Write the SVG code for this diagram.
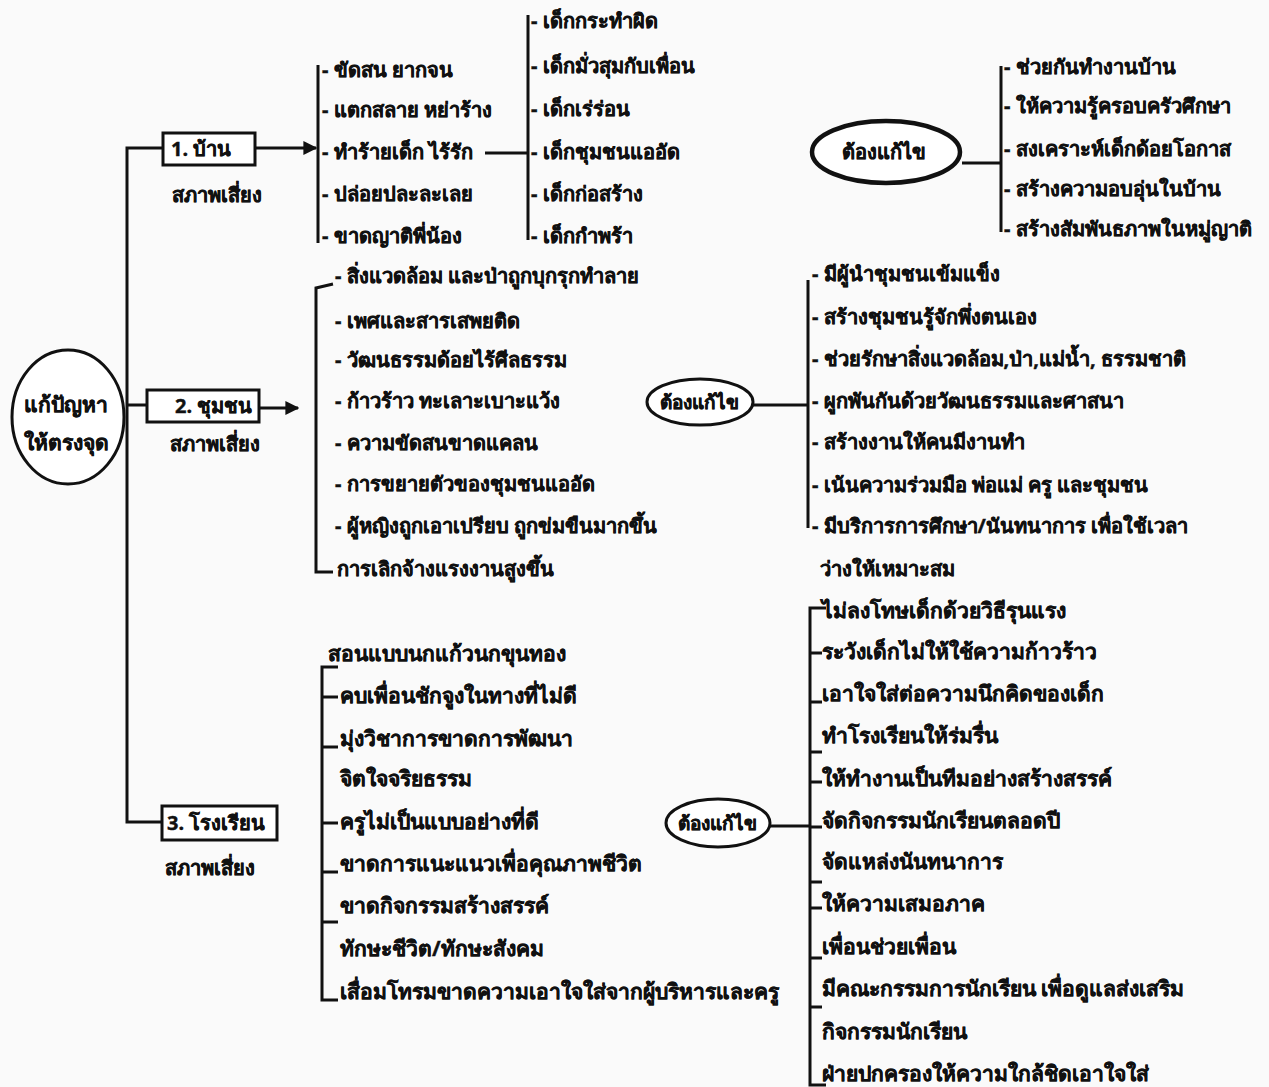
<svg xmlns="http://www.w3.org/2000/svg" width="1269" height="1087" viewBox="0 0 1269 1087">
<defs>
<style>
text{font-family:"Noto Sans","DejaVu Sans","Liberation Sans",sans-serif;font-weight:bold;font-size:20px;fill:#111;stroke:#111;stroke-width:0.4}
.ln{stroke:#111;stroke-width:3;fill:none}
.bx{stroke:#111;stroke-width:3;fill:#fff}
.el{stroke:#111;stroke-width:3;fill:#fff}
.c{text-anchor:middle}
.s{font-size:19px}
.r{font-size:21px}
.b{font-size:21px}
</style>
<marker id="ah" viewBox="0 0 10 10" refX="9" refY="5" markerWidth="14" markerHeight="14" markerUnits="userSpaceOnUse" orient="auto"><path d="M0,0 L10,5 L0,10 z" fill="#111"/></marker>
</defs>
<rect width="1269" height="1087" fill="#fafafa"/>
<g id="connectors">
<path class="ln" d="M163,148 H127 V822 H162 M127,405 H147"/>
<line class="ln" x1="255" y1="148" x2="316" y2="148" marker-end="url(#ah)"/>
<line class="ln" x1="259" y1="408" x2="298" y2="408" marker-end="url(#ah)"/>
<path class="ln" d="M318,65 V243"/>
<path class="ln" d="M485,153 H528 M528,15 V240"/>
<path class="ln" d="M962,163 H1001 M1001,66 V232"/>
<path class="ln" d="M333,284 L316,288 V572 H333"/>
<path class="ln" d="M753,405 H808 M808,280 V528"/>
<path class="ln" d="M338,667 H322 V1000 H338 M322,697 H338 M322,747 H338 M322,823 H338 M322,872 H338 M322,922 H338"/>
<path class="ln" d="M770,826 H810 M826,608 H810 V1085 H826 M810,653 H822 M810,702 H822 M810,752 H822 M810,782 H822 M810,827 H822 M810,882 H822 M810,908 H822 M810,958 H822 M810,1007 H822"/>
</g>
<g id="root"><ellipse class="el" cx="68" cy="417" rx="56" ry="67"/><text class="c r" x="66" y="412">แก้ปัญหา</text><text class="c r" x="66" y="450">ให้ตรงจุด</text></g>
<g id="home"><rect class="bx" x="163" y="133" width="92" height="32"/><text x="171" y="156">1. บ้าน</text><text x="172" y="202">สภาพเสี่ยง</text></g>
<g id="community"><rect class="bx" x="147" y="390" width="112" height="32"/><text x="175" y="413">2. ชุมชน</text><text x="170" y="451">สภาพเสี่ยง</text></g>
<g id="school"><rect class="bx" x="162" y="806" width="115" height="34"/><text x="167" y="830">3. โรงเรียน</text><text x="165" y="875">สภาพเสี่ยง</text></g>
<g id="home-risk"><text x="322" y="77">- ขัดสน ยากจน</text><text x="322" y="117">- แตกสลาย หย่าร้าง</text><text x="322" y="159">- ทำร้ายเด็ก ไร้รัก</text><text x="322" y="201">- ปล่อยปละละเลย</text><text x="322" y="243">- ขาดญาติพี่น้อง</text></g>
<g id="home-kids"><text x="531" y="28">- เด็กกระทำผิด</text><text x="531" y="73">- เด็กมั่วสุมกับเพื่อน</text><text x="531" y="116">- เด็กเร่ร่อน</text><text x="531" y="159">- เด็กชุมชนแออัด</text><text x="531" y="201">- เด็กก่อสร้าง</text><text x="531" y="243">- เด็กกำพร้า</text></g>
<g id="home-fix"><ellipse cx="886" cy="152" rx="74" ry="31" fill="#fff" stroke="#111" stroke-width="4.5"/><text class="c" x="884" y="159">ต้องแก้ไข</text></g>
<g id="home-fix-list"><text x="1004" y="74">-  ช่วยกันทำงานบ้าน</text><text x="1004" y="113">- ให้ความรู้ครอบครัวศึกษา</text><text x="1004" y="156">- สงเคราะห์เด็กด้อยโอกาส</text><text x="1004" y="196">- สร้างความอบอุ่นในบ้าน</text><text x="1004" y="236">- สร้างสัมพันธภาพในหมู่ญาติ</text></g>
<g id="community-risk"><text x="335" y="283">- สิ่งแวดล้อม และป่าถูกบุกรุกทำลาย</text><text x="335" y="328">- เพศและสารเสพยติด</text><text x="335" y="367">- วัฒนธรรมด้อยไร้ศีลธรรม</text><text x="335" y="408">- ก้าวร้าว ทะเลาะเบาะแว้ง</text><text x="335" y="450">- ความขัดสนขาดแคลน</text><text x="335" y="491">- การขยายตัวของชุมชนแออัด</text><text x="335" y="533">- ผู้หญิงถูกเอาเปรียบ ถูกข่มขืนมากขึ้น</text><text x="337" y="576">การเลิกจ้างแรงงานสูงขึ้น</text></g>
<g id="community-fix"><ellipse class="el" cx="700" cy="402" rx="53" ry="23"/><text class="c s" x="699" y="409">ต้องแก้ไข</text></g>
<g id="community-fix-list"><text x="812" y="281">- มีผู้นำชุมชนเข้มแข็ง</text><text x="812" y="324">- สร้างชุมชนรู้จักพึ่งตนเอง</text><text x="812" y="366">- ช่วยรักษาสิ่งแวดล้อม,ป่า,แม่น้ำ, ธรรมชาติ</text><text x="812" y="408">- ผูกพันกันด้วยวัฒนธรรมและศาสนา</text><text x="812" y="449">- สร้างงานให้คนมีงานทำ</text><text x="812" y="492">- เน้นความร่วมมือ พ่อแม่ ครู และชุมชน</text><text x="812" y="533">- มีบริการการศึกษา/นันทนาการ เพื่อใช้เวลา</text><text x="820" y="576">ว่างให้เหมาะสม</text></g>
<g id="school-risk" class="b"><text class="b" x="328" y="661">สอนแบบนกแก้วนกขุนทอง</text><text class="b" x="340" y="703">คบเพื่อนชักจูงในทางที่ไม่ดี</text><text class="b" x="340" y="746">มุ่งวิชาการขาดการพัฒนา</text><text class="b" x="340" y="786">จิตใจจริยธรรม</text><text class="b" x="340" y="829">ครูไม่เป็นแบบอย่างที่ดี</text><text class="b" x="340" y="871">ขาดการแนะแนวเพื่อคุณภาพชีวิต</text><text class="b" x="340" y="913">ขาดกิจกรรมสร้างสรรค์</text><text class="b" x="340" y="956">ทักษะชีวิต/ทักษะสังคม</text><text class="b" x="340" y="999">เสื่อมโทรมขาดความเอาใจใส่จากผู้บริหารและครู</text></g>
<g id="school-fix"><ellipse class="el" cx="718" cy="823" rx="52" ry="24"/><text class="c s" x="717" y="830">ต้องแก้ไข</text></g>
<g id="school-fix-list"><text class="b" x="822" y="618">ไม่ลงโทษเด็กด้วยวิธีรุนแรง</text><text class="b" x="822" y="659">ระวังเด็กไม่ให้ใช้ความก้าวร้าว</text><text class="b" x="822" y="701">เอาใจใส่ต่อความนึกคิดของเด็ก</text><text class="b" x="822" y="743">ทำโรงเรียนให้ร่มรื่น</text><text class="b" x="822" y="786">ให้ทำงานเป็นทีมอย่างสร้างสรรค์</text><text class="b" x="822" y="828">จัดกิจกรรมนักเรียนตลอดปี</text><text class="b" x="822" y="869">จัดแหล่งนันทนาการ</text><text class="b" x="822" y="911">ให้ความเสมอภาค</text><text class="b" x="822" y="954">เพื่อนช่วยเพื่อน</text><text class="b" x="822" y="996">มีคณะกรรมการนักเรียน เพื่อดูแลส่งเสริม</text><text class="b" x="822" y="1039">กิจกรรมนักเรียน</text><text class="b" x="822" y="1081">ฝ่ายปกครองให้ความใกล้ชิดเอาใจใส่</text></g>
</svg>
